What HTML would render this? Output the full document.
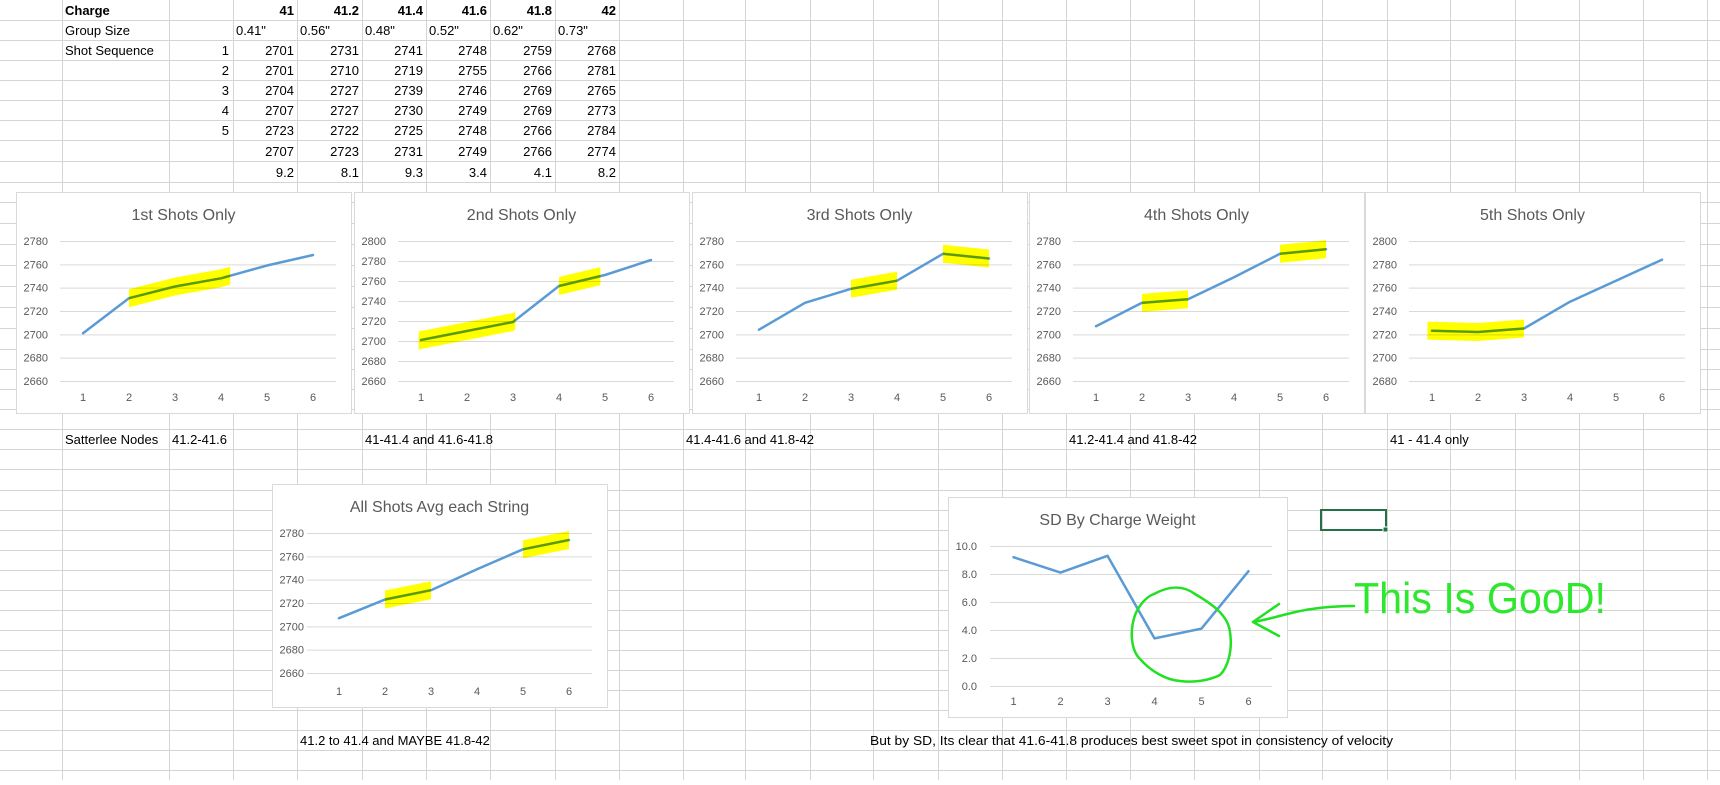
<!DOCTYPE html>
<html><head><meta charset="utf-8">
<style>
html,body{margin:0;padding:0;background:#fff;}
body{width:1720px;height:780px;overflow:hidden;font-family:"Liberation Sans",sans-serif;}
svg text{font-family:"Liberation Sans",sans-serif;}
</style></head>
<body>
<svg id="sheet" width="1720" height="780" xmlns="http://www.w3.org/2000/svg"></svg>
<script>
// ---- data ----
const charges = ["41","41.2","41.4","41.6","41.8","42"];
const groupSizes = ["0.41\"","0.56\"","0.48\"","0.52\"","0.62\"","0.73\""];
const shot1 = [2701,2731,2741,2748,2759,2768];
const shot2 = [2701,2710,2719,2755,2766,2781];
const shot3 = [2704,2727,2739,2746,2769,2765];
const shot4 = [2707,2727,2730,2749,2769,2773];
const shot5 = [2723,2722,2725,2748,2766,2784];
const avgShots = [2707,2723,2731,2749,2766,2774];
const sdValues = [9.2,8.1,9.3,3.4,4.1,8.2];
const xCategories = [1,2,3,4,5,6];
const ticksA = [2660,2680,2700,2720,2740,2760,2780];
const ticksB = [2660,2680,2700,2720,2740,2760,2780,2800];
const ticksC = [2680,2700,2720,2740,2760,2780,2800];
const ticksSD = [0,2,4,6,8,10];

const NS="http://www.w3.org/2000/svg";
const svg=document.getElementById('sheet');
function mk(tag,attrs,parent){const e=document.createElementNS(NS,tag);for(const k in attrs)e.setAttribute(k,attrs[k]);(parent||svg).appendChild(e);return e;}
function txt(x,y,s,attrs,name,parent){
  const e=mk('text',Object.assign({x:x,y:y,'font-size':13,fill:'#000'},attrs),parent);
  e.textContent=s;
  
  
  return e;
}

// ---- grid ----
const colLines=[62,169,233,297,362,426,490,555,619,683,745,810,873,938,1002,1066,1130,1194,1259,1322,1387,1450,1515,1579,1643,1707];
const rowLines=[20,40,60,80,100,120,140,161,182,202,223,244,265,286,307,328,349,369,389,409,429,449,469,490,510,530,550,570,590,610,630,650,670,690,710,730,750,770];
const grid=mk('g',{});


colLines.forEach(x=>mk('line',{x1:x+0.5,x2:x+0.5,y1:0,y2:780,stroke:'#d4d4d4','stroke-width':1},grid));
rowLines.forEach(y=>mk('line',{x1:0,x2:1720,y1:y+0.5,y2:y+0.5,stroke:'#d4d4d4','stroke-width':1},grid));

// ---- table ----
const rowB=[20,40,60,80,100,120,140,161,182];
const dataCols=[233,297,362,426,490,555,619];
txt(65,rowB[0]-5,'Charge',{'font-weight':'bold'},'charge-label');
txt(65,rowB[1]-5,'Group Size',{},'group-size-label');
txt(65,rowB[2]-5,'Shot Sequence',{},'shot-sequence-label');
for(let i=0;i<5;i++){txt(229,rowB[2+i]-5,String(i+1),{'text-anchor':'end'},'shot-number');}
const rows=[shot1,shot2,shot3,shot4,shot5,avgShots];
for(let c=0;c<6;c++){
  const r=dataCols[c+1]-3;
  txt(r,rowB[0]-5,charges[c],{'text-anchor':'end','font-weight':'bold'},'charge-value');
  txt(dataCols[c]+3,rowB[1]-5,groupSizes[c],{},'group-size-value');
  for(let k=0;k<6;k++){txt(r,rowB[2+k]-5,String(rows[k][c]),{'text-anchor':'end'},'velocity-cell');}
  txt(r,rowB[8]-5,sdValues[c].toFixed(1),{'text-anchor':'end'},'sd-cell');
}

// ---- notes ----
txt(65,444,'Satterlee Nodes',{},'note-satterlee');
txt(172,444,'41.2-41.6',{},'note-chart1');
txt(365,444,'41-41.4 and 41.6-41.8',{},'note-chart2');
txt(686,444,'41.4-41.6 and 41.8-42',{},'note-chart3');
txt(1069,444,'41.2-41.4 and 41.8-42',{},'note-chart4');
txt(1390,444,'41 - 41.4 only',{},'note-chart5');
txt(300,745,'41.2 to 41.4 and MAYBE 41.8-42',{},'note-avg-chart');
txt(870,745,'But by SD, Its clear that 41.6-41.8 produces best sweet spot in consistency of velocity',{textLength:523,lengthAdjust:'spacingAndGlyphs'},'note-sd-chart');

// selected cell
const sel=mk('rect',{x:1321,y:510,width:65,height:20,fill:'none',stroke:'#217346','stroke-width':2});


mk('rect',{x:1383,y:527,width:5,height:5,fill:'#217346',stroke:'#fff','stroke-width':1});

// ---- charts ----
function drawChart(cfg){
  const g=mk('g',{});
  
  
  mk('rect',{x:cfg.x+0.5,y:cfg.y+0.5,width:cfg.w,height:cfg.h,fill:'#fff',stroke:'#d9d9d9','stroke-width':1},g);
  txt(cfg.x+cfg.w/2,cfg.y+28,cfg.title,{'text-anchor':'middle','font-size':16,fill:'#595959'},'chart-title',g);
  const ticks=cfg.ticks;
  const yMin=ticks[0], yMax=ticks[ticks.length-1];
  const gTop=cfg.y+49, gBot=cfg.y+189;
  const yS=v=>gTop+(yMax-v)/(yMax-yMin)*(gBot-gTop);
  const pL=cfg.x+cfg.pl, pR=cfg.x+cfg.pr;
  const bw=(pR-pL)/xCategories.length;
  const xS=i=>pL+bw*(i+0.5);
  ticks.forEach(t=>{
    mk('line',{x1:cfg.x+cfg.gl,x2:pR,y1:yS(t)+0.5,y2:yS(t)+0.5,stroke:'#d9d9d9','stroke-width':1},g);
    txt(cfg.x+cfg.lr,yS(t)+4,cfg.dec?t.toFixed(1):String(t),{'text-anchor':'end','font-size':11,fill:'#595959'},'y-tick-label',g);
  });
  xCategories.forEach((c,i)=>{txt(xS(i),cfg.y+cfg.xl,String(c),{'text-anchor':'middle','font-size':11,fill:'#595959'},'x-tick-label',g);});
  const pts=cfg.values.map((v,i)=>xS(i).toFixed(1)+','+yS(v).toFixed(1)).join(' ');
  const line=mk('polyline',{points:pts,fill:'none',stroke:'#5b9bd5','stroke-width':2.5,'stroke-linejoin':'round','stroke-linecap':'round'},g);
  
  
  (cfg.hl||[]).forEach(r=>{
    const interp=p=>{const i=Math.max(0,Math.min(4,Math.floor(p)));const f=p-i;return cfg.values[i]+(cfg.values[i+1]-cfg.values[i])*f;};
    const samp=[r[0]];for(let k=Math.ceil(r[0]);k<r[1];k++){if(k>r[0])samp.push(k);}samp.push(r[1]);
    const xp=p=>pL+bw*(p+0.5);
    const up=samp.map(p=>xp(p).toFixed(1)+','+(yS(interp(p))-9).toFixed(1));
    const dn=samp.slice().reverse().map(p=>xp(p).toFixed(1)+','+(yS(interp(p))+9).toFixed(1));
    const hp=mk('polygon',{points:up.concat(dn).join(' '),fill:'#ffff00',style:'mix-blend-mode:multiply'},g);
    
    
  });
}
const topCfg={y:192,w:335,h:221,pl:44,pr:320,gl:44,lr:32,xl:209};
drawChart(Object.assign({},topCfg,{name:'chart-1st-shots',x:16,title:'1st Shots Only',ticks:ticksA,values:shot1,hl:[[1,3.2]]}));
drawChart(Object.assign({},topCfg,{name:'chart-2nd-shots',x:354,title:'2nd Shots Only',ticks:ticksB,values:shot2,hl:[[-0.05,2.05],[3,3.9]]}));
drawChart(Object.assign({},topCfg,{name:'chart-3rd-shots',x:692,title:'3rd Shots Only',ticks:ticksA,values:shot3,hl:[[2,3],[4,5]]}));
drawChart(Object.assign({},topCfg,{name:'chart-4th-shots',x:1029,title:'4th Shots Only',ticks:ticksA,values:shot4,hl:[[1,2],[4,5]]}));
drawChart(Object.assign({},topCfg,{name:'chart-5th-shots',x:1365,title:'5th Shots Only',ticks:ticksC,values:shot5,hl:[[-0.1,2]]}));
drawChart({name:'chart-avg-shots',x:272,y:484,w:335,h:223,pl:44,pr:320,gl:35,lr:32,xl:211,title:'All Shots Avg each String',ticks:ticksA,values:avgShots,hl:[[1,2],[4,5]]});
drawChart({name:'chart-sd',x:948,y:497,w:339,h:220,pl:42,pr:324,gl:42,lr:29,xl:208,title:'SD By Charge Weight',ticks:ticksSD,values:sdValues,dec:true});

// ---- annotation ----
const ann=mk('g',{fill:'none',stroke:'#22e022','stroke-width':2.5,'stroke-linecap':'round','stroke-linejoin':'round'});


mk('path',{d:'M1154 594 C1165 588 1180 583 1195 594 C1212 604 1228 615 1230 632 C1233 652 1227 668 1220 675 C1210 680 1195 683 1180 681 C1165 680 1150 670 1141 660 C1130 650 1130 630 1135 615 C1140 603 1148 596 1154 594'},ann);
mk('path',{d:'M1253 622 C1280 618 1300 606 1354 606 M1279 604 L1253 622 L1279 636'},ann);
txt(1354,613,'This Is GooD!',{'font-size':44,fill:'#2ee82e',textLength:252,lengthAdjust:'spacingAndGlyphs'},'annotation-text');
</script>
</body></html>
